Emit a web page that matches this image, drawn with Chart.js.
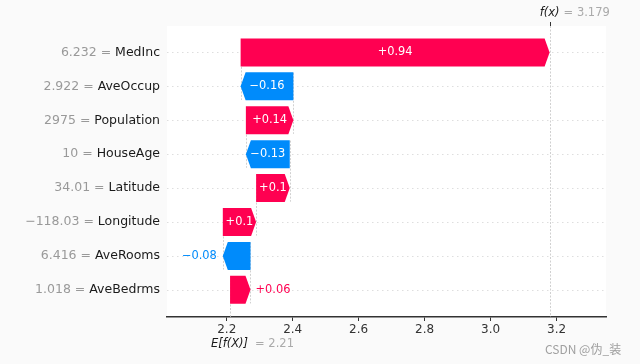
<!DOCTYPE html>
<html><head><meta charset="utf-8">
<script src="https://cdn.jsdelivr.net/npm/chart.js@4"></script>
<style>html,body{margin:0;padding:0;background:#fafafa}canvas{display:block}</style>
</head><body>
<canvas id="c" width="640" height="364"></canvas>
<script>
// ---- data ----
const features = ['MedInc','AveOccup','Population','HouseAge','Latitude','Longitude','AveRooms','AveBedrms'];
const featureValues = ['6.232','2.922','2975','10','34.01','\u2212118.03','6.416','1.018'];
const shapValues = [0.937, -0.160, 0.144, -0.133, 0.102, 0.101, -0.084, 0.062];
const baseValue = 2.21;
const fxValue = 3.179;
const baseLabel = '2.21';
const fxLabel = '3.179';
const xTicks = [2.2, 2.4, 2.6, 2.8, 3.0, 3.2];
const watermark = 'CSDN @\u4f2a_\u88c5';

const POS = '#ff0051', NEG = '#008bfb';
const FONT = 'DejaVu Sans';
const n = features.length;
const starts = new Array(n), ends = new Array(n);
let run = baseValue;
for (let i = n - 1; i >= 0; i--) { starts[i] = run; ends[i] = run + shapValues[i]; run = ends[i]; }

function fmt(v) {
  let s = Math.abs(v).toFixed(2).replace(/0+$/, '').replace(/\.$/, '');
  return (v >= 0 ? '+' : '\u2212') + s;
}

const wfPlugin = {
  id: 'wf',
  beforeDraw(chart) {
    const { ctx, chartArea: a } = chart;
    ctx.save();
    ctx.fillStyle = '#fafafa'; ctx.fillRect(0, 0, chart.width, chart.height);
    ctx.fillStyle = '#ffffff'; ctx.fillRect(a.left, a.top, a.right - a.left, a.bottom - a.top);
    ctx.restore();
  },
  beforeDatasetsDraw(chart) {
    const { ctx, chartArea: a } = chart;
    const xs = chart.scales.x, ys = chart.scales.y;
    ctx.save();
    ctx.strokeStyle = '#d6d6d6'; ctx.lineWidth = 0.8; ctx.setLineDash([1.5, 3.5]);
    for (let i = 0; i < n; i++) {
      const y = Math.round(ys.getPixelForValue(i)) + 0.5;
      ctx.beginPath(); ctx.moveTo(a.left, y); ctx.lineTo(a.right, y); ctx.stroke();
    }
    ctx.strokeStyle = '#c4c4c4'; ctx.lineWidth = 0.8; ctx.setLineDash([2, 1.5]);
    for (let i = 0; i < n - 1; i++) {
      const x = Math.round(xs.getPixelForValue(starts[i])) + 0.5;
      ctx.beginPath(); ctx.moveTo(x, ys.getPixelForValue(i - 0.4)); ctx.lineTo(x, ys.getPixelForValue(i + 1 + 0.4)); ctx.stroke();
    }
    let fx = Math.round(xs.getPixelForValue(fxValue)) + 0.5;
    ctx.beginPath(); ctx.moveTo(fx, a.top); ctx.lineTo(fx, a.bottom); ctx.stroke();
    let bx = Math.round(xs.getPixelForValue(baseValue)) + 0.5;
    ctx.beginPath(); ctx.moveTo(bx, a.bottom); ctx.lineTo(bx, a.bottom - (a.bottom - a.top) / n); ctx.stroke();
    ctx.restore();
  },
  beforeDatasetDraw() { return false; },
  afterDatasetsDraw(chart) {
    const { ctx, chartArea: a } = chart;
    const xs = chart.scales.x, ys = chart.scales.y;
    const meta = chart.getDatasetMeta(0);
    ctx.save();
    meta.data.forEach((el, i) => {
      const { x, base, y, height } = el.getProps(['x', 'base', 'y', 'height'], true);
      const lo = Math.min(x, base), hi = Math.max(x, base);
      const dir = shapValues[i] >= 0 ? 1 : -1;
      const from = dir > 0 ? lo : hi, to = dir > 0 ? hi : lo;
      const len = hi - lo;
      const hl = Math.min(5, len);
      const top = y - height / 2, bot = y + height / 2;
      const col = dir > 0 ? POS : NEG;
      ctx.beginPath();
      ctx.moveTo(from, top); ctx.lineTo(to - dir * hl, top); ctx.lineTo(to, y);
      ctx.lineTo(to - dir * hl, bot); ctx.lineTo(from, bot); ctx.closePath();
      ctx.fillStyle = col; ctx.fill();
      const t = fmt(shapValues[i]);
      ctx.font = '11.4px "' + FONT + '"';
      ctx.textBaseline = 'middle';
      const w = ctx.measureText(t).width;
      if (w + 4 < len) {
        ctx.fillStyle = '#ffffff'; ctx.textAlign = 'center';
        ctx.fillText(t, (lo + hi) / 2, y);
      } else if (dir > 0) {
        ctx.fillStyle = col; ctx.textAlign = 'left'; ctx.fillText(t, hi + 5, y);
      } else {
        ctx.fillStyle = col; ctx.textAlign = 'right'; ctx.fillText(t, lo - 6, y);
      }
    });
    ctx.font = '12.5px "' + FONT + '"';
    ctx.textBaseline = 'middle';
    const nameRight = a.left - 7;
    for (let i = 0; i < n; i++) {
      const y = ys.getPixelForValue(i);
      ctx.textAlign = 'right';
      ctx.fillStyle = '#1a1a1a';
      ctx.fillText(features[i], nameRight, y);
      const nw = ctx.measureText(features[i]).width;
      ctx.fillStyle = '#999999';
      ctx.fillText(featureValues[i] + ' = ', nameRight - nw, y);
    }
    const fxp = xs.getPixelForValue(fxValue);
    ctx.strokeStyle = '#333'; ctx.lineWidth = 1; ctx.setLineDash([]);
    ctx.beginPath(); ctx.moveTo(Math.round(fxp) + 0.5, a.top - 4); ctx.lineTo(Math.round(fxp) + 0.5, a.top); ctx.stroke();
    ctx.font = 'italic 11.5px "' + FONT + '"';
    ctx.textAlign = 'right'; ctx.fillStyle = '#1a1a1a';
    ctx.fillText('f(x)', fxp + 10, 13.5);
    ctx.font = '11.5px "' + FONT + '"';
    ctx.textAlign = 'left'; ctx.fillStyle = '#aaaaaa';
    ctx.fillText('= ' + fxLabel, fxp + 14, 13.5);
    const bp = xs.getPixelForValue(baseValue);
    ctx.font = 'italic 11.5px "' + FONT + '"';
    ctx.textAlign = 'right'; ctx.fillStyle = '#1a1a1a';
    ctx.fillText('E[f(X)]', bp + 18, 344);
    ctx.font = '11.5px "' + FONT + '"';
    ctx.textAlign = 'left'; ctx.fillStyle = '#aaaaaa';
    ctx.fillText('= ' + baseLabel, bp + 25, 344);
    ctx.font = '12px "Noto Sans CJK SC"';
    ctx.fillStyle = '#a0a0a0'; ctx.textAlign = 'left';
    ctx.fillText(watermark, 545, 349);
    ctx.restore();
  }
};

Chart.defaults.font.family = FONT;
new Chart(document.getElementById('c'), {
  type: 'bar',
  data: {
    datasets: [{
      data: features.map((f, i) => ({ y: i, x: [starts[i], ends[i]] })),
      backgroundColor: shapValues.map(v => v >= 0 ? POS : NEG),
      barThickness: 28,
      borderWidth: 0
    }]
  },
  options: {
    indexAxis: 'y',
    responsive: false,
    animation: false,
    devicePixelRatio: 1,
    layout: { padding: { left: 167, right: 34, top: 26, bottom: 0 } },
    plugins: { legend: { display: false }, tooltip: { enabled: false } },
    scales: {
      x: {
        type: 'linear', min: 2.0188, max: 3.35, position: 'bottom',
        afterBuildTicks: s => { s.ticks = xTicks.map(v => ({ value: v })); },
        grid: { display: true, drawOnChartArea: false, drawTicks: true, tickLength: 4, color: '#333', lineWidth: 1 },
        border: { display: true, color: '#333', width: 1.5 },
        ticks: { color: '#333', font: { family: FONT, size: 12 }, padding: 2, maxRotation: 0, autoSkip: false,
                 callback: v => Number(v).toFixed(1) },
        afterFit: s => { s.height = 47; }
      },
      y: { type: 'linear', reverse: true, min: -0.78, max: 7.8, offset: false, display: false }
    }
  },
  plugins: [wfPlugin]
});
</script>
</body></html>
